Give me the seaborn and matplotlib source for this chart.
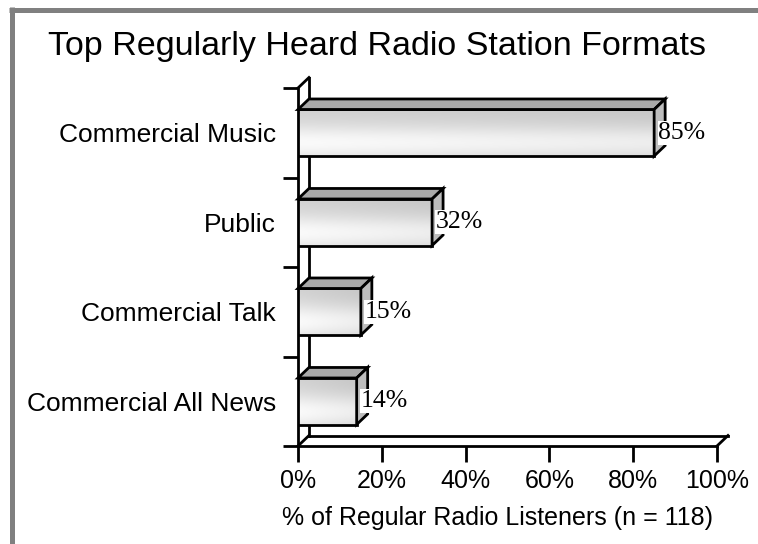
import numpy as np
import pandas as pd
import matplotlib
matplotlib.use("Agg")
import matplotlib.pyplot as plt
from matplotlib.patches import Polygon
from matplotlib.lines import Line2D
import seaborn as sns

categories = ["Commercial Music", "Public", "Commercial Talk", "Commercial All News"]
values = [85, 32, 15, 14]
x_ticks = [0, 20, 40, 60, 80, 100]
x_tick_labels = ["0%", "20%", "40%", "60%", "80%", "100%"]
title = "Top Regularly Heard Radio Station Formats"
x_label = "% of Regular Radio Listeners (n = 118)"

sns.set_style("white")
plt.rcParams["font.family"] = ["Liberation Sans", "DejaVu Sans"]
plt.rcParams["text.color"] = "black"
plt.rcParams["xtick.color"] = "black"
plt.rcParams["ytick.color"] = "black"
plt.rcParams["axes.labelcolor"] = "black"

W, H = 758, 544
fig = plt.figure(figsize=(W / 100, H / 100), dpi=100)
ax = fig.add_axes([298 / W, (H - 446) / H, (717 - 298) / W, (446 - 88) / H])

df = pd.DataFrame({"cat": categories, "val": values})
sns.barplot(data=df, x="val", y="cat", orient="h", ax=ax, width=0.52,
            color="white", saturation=1, errorbar=None)

ax.set_xlim(0, 100)
ax.set_ylim(len(categories) - 0.5, -0.5)
for s in ax.spines.values():
    s.set_visible(False)

# depth in data units
px_x = 100 / (717 - 298)
px_y = len(categories) / (446 - 88)
DX, DY = 11 * px_x, 10.5 * px_y

lw = 2.0
ymin, ymax = len(categories) - 0.5, -0.5

# wall and floor lines
wall = [
    ([0, 0], [ymin, ymax]),
    ([DX, DX], [ymin - DY, ymax - DY]),
    ([0, DX], [ymax, ymax - DY]),
    ([0, 100], [ymin, ymin]),
    ([DX, 100 + DX], [ymin - DY, ymin - DY]),
    ([100, 100 + DX], [ymin, ymin - DY]),
    ([0, DX], [ymin, ymin - DY]),
]
for xs, ys in wall:
    ax.add_line(Line2D(xs, ys, color="black", lw=lw, clip_on=False, zorder=1,
                       solid_capstyle="projecting"))

# gradient for front faces
ny, nx = 60, 60
yy = np.linspace(0, 1, ny)[:, None]
xx = np.linspace(0, 1, nx)[None, :]
vert = 0.82 + 0.16 * np.exp(-((yy - 0.72) / 0.38) ** 2)
horiz = 1.0 - 0.05 * xx
grad = np.clip(vert * horiz, 0, 1)
grad_rgb = np.dstack([grad, grad, grad])

for patch, v in zip(ax.patches, values):
    x0, y0 = patch.get_x(), patch.get_y()
    w, h = patch.get_width(), patch.get_height()
    patch.set_facecolor("none")
    patch.set_edgecolor("black")
    patch.set_linewidth(lw)
    patch.set_zorder(4)
    im = ax.imshow(grad_rgb, extent=[x0, x0 + w, y0 + h, y0], aspect="auto",
                   zorder=3, interpolation="bilinear")
    im.set_clip_path(patch)
    top = Polygon([(x0, y0), (x0 + w, y0), (x0 + w + DX, y0 - DY), (x0 + DX, y0 - DY)],
                  closed=True, facecolor="#a9a9a9", edgecolor="black", lw=lw,
                  zorder=4, clip_on=False, joinstyle="miter")
    side = Polygon([(x0 + w, y0), (x0 + w + DX, y0 - DY), (x0 + w + DX, y0 + h - DY),
                    (x0 + w, y0 + h)], closed=True, facecolor="#bdbdbd",
                   edgecolor="black", lw=lw, zorder=4, clip_on=False, joinstyle="miter")
    ax.add_patch(top)
    ax.add_patch(side)
    ax.annotate(f"{v}%", xy=(x0 + w, y0 + h / 2), xytext=(3, 0),
                textcoords="offset points", ha="left", va="center",
                fontsize=18.5, family=["Liberation Serif", "DejaVu Serif"],
                bbox=dict(facecolor="white", edgecolor="none", pad=0.5), zorder=6)

ax.set_xlim(0, 100)
ax.set_ylim(ymin, ymax)

# ticks
ax.set_xticks(x_ticks)
ax.set_xticklabels(x_tick_labels, fontsize=18)
ax.tick_params(axis="x", direction="out", length=11.5, width=lw,
               pad=5, bottom=True)
ax.set_yticks(range(len(categories)))
ax.set_yticklabels(categories, fontsize=19)
ax.tick_params(axis="y", which="major", length=0, pad=16, left=True)
ax.set_yticks([i - 0.5 for i in range(len(categories) + 1)], minor=True)
ax.tick_params(axis="y", which="minor", direction="out", length=11, width=lw,
               left=True)
ax.set_xlabel("")
ax.set_ylabel("")
ax.grid(False)

fig.text(376.5 / W, 1 - 47 / H, title, ha="center", va="center", fontsize=24.5)
fig.text(497.5 / W, 1 - 518 / H, x_label, ha="center", va="center", fontsize=18)

# gray frame on left and top
fig.add_artist(Line2D([11.5 / W, 11.5 / W], [0, 1 - 7 / H], color="#808080",
                      lw=3.6, transform=fig.transFigure, solid_capstyle="butt"))
fig.add_artist(Line2D([9 / W, 1], [1 - 9.5 / H, 1 - 9.5 / H], color="#808080",
                      lw=3.6, transform=fig.transFigure, solid_capstyle="butt"))

fig.savefig("out.png", dpi=100)
